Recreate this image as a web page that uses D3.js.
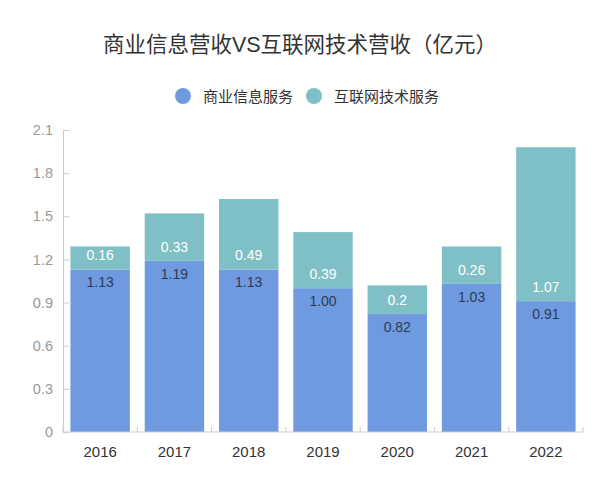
<!DOCTYPE html>
<html><head><meta charset="utf-8">
<script src="https://cdn.jsdelivr.net/npm/d3@7"></script>
<style>body{margin:0;background:#fff}svg{display:block}text{font-family:"Liberation Sans","Noto Sans CJK SC",sans-serif}</style>
</head><body>
<script>
const years = ["2016","2017","2018","2019","2020","2021","2022"];
const bizInfo = [1.13,1.19,1.13,1.00,0.82,1.03,0.91];
const bizInfoLabels = ["1.13","1.19","1.13","1.00","0.82","1.03","0.91"];
const netTech = [0.16,0.33,0.49,0.39,0.2,0.26,1.07];
const netTechLabels = ["0.16","0.33","0.49","0.39","0.2","0.26","1.07"];
const yTicks = [0,0.3,0.6,0.9,1.2,1.5,1.8,2.1];
const yTickLabels = ["0","0.3","0.6","0.9","1.2","1.5","1.8","2.1"];
const seriesNames = ["商业信息服务","互联网技术服务"];
const colors = ["#6f9ae0","#7fc0c6"];
const title = "商业信息营收VS互联网技术营收（亿元）";

const W=612,H=489;
const svg=d3.select("body").append("svg").attr("width",W).attr("height",H);
const x=d3.scaleBand().domain(years).range([63,583]).paddingInner(0.2).paddingOuter(0.1);
const y=d3.scaleLinear().domain([0,2.1]).range([432,130]);

svg.append("text").attr("x",300).attr("y",52).attr("text-anchor","middle")
  .attr("font-size",21.5).attr("fill","#333").text(title);

// legend
const legX=[183,314];
seriesNames.forEach((n,i)=>{
  svg.append("circle").attr("cx",legX[i]).attr("cy",96).attr("r",8).attr("fill",colors[i]);
  svg.append("text").attr("x",legX[i]+20).attr("y",101.5).attr("font-size",15).attr("fill","#333").text(n);
});

// y axis
const ya=svg.append("g").attr("transform","translate(63,0)")
  .call(d3.axisLeft(y).tickValues(yTicks).tickFormat((d,i)=>yTickLabels[i]).tickSize(0).tickPadding(10));
ya.select(".domain").attr("stroke","#ccc");
ya.selectAll(".tick").append("line").attr("x1",0).attr("x2",6).attr("stroke","#ccc");
ya.selectAll(".tick text").attr("fill","#999").attr("font-size",14.5);

// bars
const g=svg.append("g");
years.forEach((yr,i)=>{
  const x0=x(yr), bw=x.bandwidth();
  g.append("rect").attr("x",x0).attr("width",bw).attr("y",y(bizInfo[i])).attr("height",y(0)-y(bizInfo[i])).attr("fill",colors[0]);
  g.append("rect").attr("x",x0).attr("width",bw).attr("y",y(bizInfo[i]+netTech[i])).attr("height",y(bizInfo[i])-y(bizInfo[i]+netTech[i])).attr("fill",colors[1]);
  g.append("text").attr("x",x0+bw/2).attr("y",y(bizInfo[i])+18).attr("text-anchor","middle").attr("font-size",14).attr("fill","#2c3a55").text(bizInfoLabels[i]);
  g.append("text").attr("x",x0+bw/2).attr("y",y(bizInfo[i])-9).attr("text-anchor","middle").attr("font-size",14).attr("fill","#fff").text(netTechLabels[i]);
});

// x axis
const xa=svg.append("g").attr("transform","translate(0,432)");
xa.append("line").attr("x1",63).attr("x2",583).attr("stroke","#ccc");
const bounds=years.map(d=>x(d)-x.step()*x.paddingInner()/2).concat([583]);
bounds.forEach(b=>xa.append("line").attr("x1",b).attr("x2",b).attr("y1",0).attr("y2",-5).attr("stroke","#ccc"));
years.forEach(yr=>xa.append("text").attr("x",x(yr)+x.bandwidth()/2).attr("y",24.5).attr("text-anchor","middle").attr("font-size",15).attr("fill","#333").text(yr));
</script>
</body></html>
